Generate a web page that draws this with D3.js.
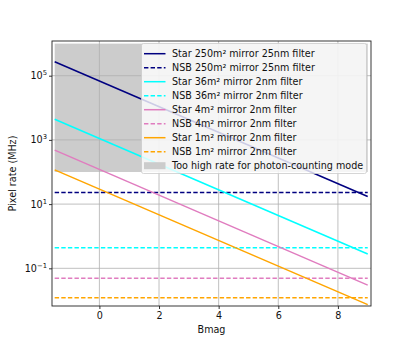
<!DOCTYPE html>
<html>
<head>
<meta charset="utf-8">
<script src="https://cdn.jsdelivr.net/npm/d3@7"></script>
<style>
  body { margin: 0; background: #fff; }
  text { font-family: "DejaVu Sans", sans-serif; fill: #111; }
</style>
</head>
<body>
<div id="chart"></div>
<script>
// magnitudes at the ends of each star line
const bmag = [-1.5, 9];
const starValues = [
  [272000, 17.2],   // 250m2 25nm
  [4400, 0.278],    // 36m2 2nm
  [479, 0.030],     // 4m2 2nm
  [117, 0.0074]     // 1m2 2nm
];
const nsbValues = [23, 0.44, 0.049, 0.0122];
const seriesNames = [
  '250m² mirror 25nm filter',
  '36m² mirror 2nm filter',
  '4m² mirror 2nm filter',
  '1m² mirror 2nm filter'
];
const seriesColors = ['#000080', '#00ffff', '#e07cbf', '#ffa500'];
const regionX = [-1.5, 9];
const regionY = [100, 1e6];
const regionLabel = 'Too high rate for photon-counting mode';
const xTicks = [0, 2, 4, 6, 8];
const yTickExp = [5, 3, 1, -1];

const width = 412, height = 344;
const margin = { top: 41, right: 41, bottom: 38, left: 52 };
const fs = 9.6;
const lw = 1.5;
const dash = '4.4,2.2';

const svg = d3.select('#chart').append('svg')
  .attr('width', width)
  .attr('height', height);

const x = d3.scaleLinear()
  .domain([-1.59, 9.11])
  .range([margin.left, width - margin.right]);
const y = d3.scaleLog()
  .domain([Math.pow(10, -2.174), Math.pow(10, 6.081)])
  .range([height - margin.bottom, margin.top]);

const plot = svg.append('g');
plot.append('clipPath').attr('id', 'clip')
  .append('rect')
  .attr('x', margin.left).attr('y', margin.top)
  .attr('width', x.range()[1] - x.range()[0])
  .attr('height', y.range()[0] - y.range()[1]);

// shaded region
plot.append('rect')
  .attr('x', x(regionX[0]))
  .attr('y', y(regionY[1]))
  .attr('width', x(regionX[1]) - x(regionX[0]))
  .attr('height', y(regionY[0]) - y(regionY[1]))
  .attr('fill', '#cccccc');

// grid
const grid = plot.append('g').attr('stroke', '#b0b0b0').attr('stroke-width', 0.8);
grid.selectAll('.gx').data(xTicks).join('line')
  .attr('x1', d => x(d)).attr('x2', d => x(d))
  .attr('y1', y.range()[0]).attr('y2', y.range()[1]);
grid.selectAll('.gy').data(yTickExp).join('line')
  .attr('y1', d => y(Math.pow(10, d))).attr('y2', d => y(Math.pow(10, d)))
  .attr('x1', x.range()[0]).attr('x2', x.range()[1]);

const lines = plot.append('g').attr('clip-path', 'url(#clip)');
const line = d3.line().x(d => x(d[0])).y(d => y(d[1]));

starValues.forEach((vals, i) => {
  lines.append('path')
    .attr('d', line(bmag.map((m, j) => [m, vals[j]])))
    .attr('fill', 'none')
    .attr('stroke', seriesColors[i])
    .attr('stroke-width', lw);
  lines.append('path')
    .attr('d', line(bmag.map(m => [m, nsbValues[i]])))
    .attr('fill', 'none')
    .attr('stroke', seriesColors[i])
    .attr('stroke-width', lw)
    .attr('stroke-dasharray', dash);
});

// axes
const xAxis = svg.append('g')
  .attr('transform', `translate(0,${y.range()[0]})`)
  .call(d3.axisBottom(x).tickValues(xTicks).tickSize(3).tickPadding(3).tickFormat(d3.format('d')));
const yAxis = svg.append('g')
  .attr('transform', `translate(${x.range()[0]},0)`)
  .call(d3.axisLeft(y).tickValues(yTickExp.map(e => Math.pow(10, e))).tickSize(3).tickPadding(3).tickFormat(''));
[xAxis, yAxis].forEach(a => {
  a.select('.domain').remove();
  a.selectAll('.tick line').attr('stroke', '#000').attr('stroke-width', 0.8);
  a.selectAll('text').attr('font-size', fs).attr('font-family', 'DejaVu Sans').attr('fill', '#111');
});

yAxis.selectAll('.tick').each(function(d) {
  const e = Math.round(Math.log10(d));
  const t = d3.select(this).append('text')
    .attr('x', -5).attr('dy', '0.32em')
    .attr('text-anchor', 'end')
    .attr('font-size', fs);
  t.append('tspan').text('10');
  t.append('tspan').attr('font-size', 6.8).attr('dy', '-0.6em')
    .text(e < 0 ? '\u2212' + Math.abs(e) : e);
});

// frame
svg.append('rect')
  .attr('x', x.range()[0]).attr('y', y.range()[1])
  .attr('width', x.range()[1] - x.range()[0])
  .attr('height', y.range()[0] - y.range()[1])
  .attr('fill', 'none').attr('stroke', '#222').attr('stroke-width', 0.9);

svg.append('text')
  .attr('x', (x.range()[0] + x.range()[1]) / 2)
  .attr('y', 333)
  .attr('text-anchor', 'middle')
  .attr('font-size', fs)
  .text('Bmag');
svg.append('text')
  .attr('transform', `translate(16,${(y.range()[0] + y.range()[1]) / 2}) rotate(-90)`)
  .attr('text-anchor', 'middle')
  .attr('font-size', fs)
  .text('Pixel rate (MHz)');

// legend
const legendItems = [];
seriesNames.forEach((n, i) => {
  legendItems.push({ label: 'Star ' + n, color: seriesColors[i], dash: null });
  legendItems.push({ label: 'NSB ' + n, color: seriesColors[i], dash: dash });
});
legendItems.push({ label: regionLabel, patch: '#cccccc' });

const lg = svg.append('g').attr('transform', 'translate(141.5,43.5)');
lg.append('rect')
  .attr('width', 225).attr('height', 130)
  .attr('rx', 2)
  .attr('fill', '#fff').attr('fill-opacity', 0.8)
  .attr('stroke', '#cccccc').attr('stroke-width', 0.8);
const rows = lg.selectAll('.item').data(legendItems).join('g')
  .attr('transform', (d, i) => `translate(0,${10.2 + i * 14})`);
rows.filter(d => !d.patch).append('line')
  .attr('x1', 2.5).attr('x2', 24)
  .attr('stroke', d => d.color)
  .attr('stroke-width', lw)
  .attr('stroke-dasharray', d => d.dash);
rows.filter(d => d.patch).append('rect')
  .attr('x', 2.5).attr('y', -3.5).attr('width', 21.5).attr('height', 7)
  .attr('fill', d => d.patch);
rows.append('text')
  .attr('x', 30.5).attr('dy', '0.34em')
  .attr('font-size', fs)
  .text(d => d.label);
</script>
</body>
</html>
